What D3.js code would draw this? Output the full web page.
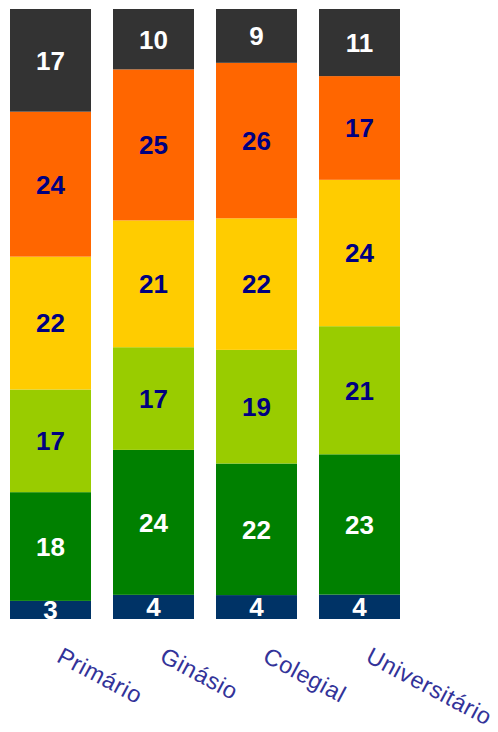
<!DOCTYPE html>
<html><head><meta charset="utf-8">
<script src="https://cdn.jsdelivr.net/npm/d3@7"></script>
<style>body{margin:0;background:#fff;} svg{display:block;}</style>
</head><body>
<script>
const categories = ["Primário", "Ginásio", "Colegial", "Universitário"];
const seriesNames = ["s1", "s2", "s3", "s4", "s5", "s6"];
const s1 = [3, 4, 4, 4];
const s2 = [18, 24, 22, 23];
const s3 = [17, 17, 19, 21];
const s4 = [22, 21, 22, 24];
const s5 = [24, 25, 26, 17];
const s6 = [17, 10, 9, 11];
const colors = ["#003366", "#008000", "#99CC00", "#FFCC00", "#FF6600", "#333333"];
const labelColors = ["#ffffff", "#ffffff", "#000080", "#000080", "#000080", "#ffffff"];

const W = 498, H = 732;
const svg = d3.select("body").append("svg").attr("width", W).attr("height", H);
const rows = categories.map((c, i) => ({cat: c, s1: s1[i], s2: s2[i], s3: s3[i], s4: s4[i], s5: s5[i], s6: s6[i]}));
const stack = d3.stack().keys(seriesNames).offset(d3.stackOffsetExpand);
const layers = stack(rows);

const x = d3.scaleBand().domain(categories).range([-0.3, 410.3]).paddingInner(22 / 103).paddingOuter(0.1);
const y = d3.scaleLinear().domain([0, 1]).range([619, 9]);

const g = svg.append("g");
layers.forEach((layer, li) => {
  const lg = g.append("g");
  lg.selectAll("rect").data(layer).join("rect")
    .attr("x", d => x(d.data.cat))
    .attr("width", x.bandwidth())
    .attr("y", d => y(d[1]))
    .attr("height", d => y(d[0]) - y(d[1]))
    .attr("fill", colors[li]);
  lg.selectAll("text").data(layer).join("text")
    .attr("x", d => x(d.data.cat) + x.bandwidth() / 2)
    .attr("y", d => (y(d[0]) + y(d[1])) / 2)
    .attr("dy", "0.36em")
    .attr("text-anchor", "middle")
    .attr("font-family", "Liberation Sans, Arial, sans-serif")
    .attr("font-weight", "bold")
    .attr("font-size", 26)
    .attr("fill", labelColors[li])
    .text(d => d.data[layer.key]);
});

const axis = d3.axisBottom(x).tickSize(0).tickPadding(0);
const ax = svg.append("g").attr("transform", "translate(0,619)").call(axis);
ax.select(".domain").remove();
ax.selectAll("text")
  .attr("font-family", "Liberation Sans, Arial, sans-serif")
  .attr("font-size", 23.5)
  .attr("letter-spacing", "0.6px")
  .attr("fill", "#333399")
  .attr("text-anchor", "start")
  .attr("dy", null)
  .attr("y", 0)
  .attr("transform", "translate(5,42) rotate(28)");
</script>
</body></html>
